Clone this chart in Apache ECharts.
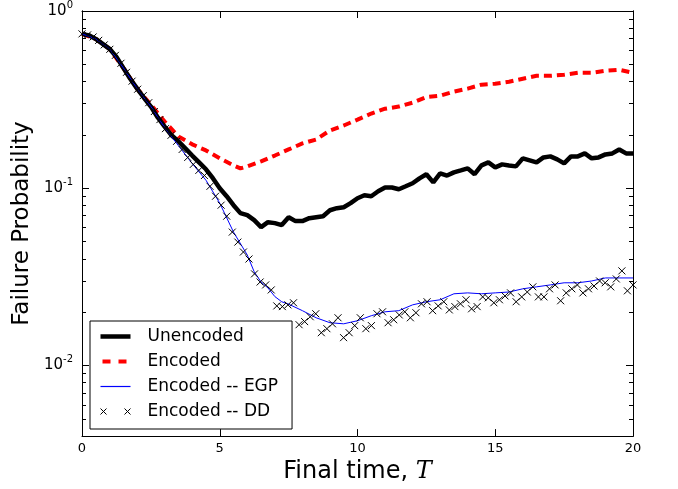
<!DOCTYPE html>
<html>
<head>
<meta charset="utf-8">
<script src="https://cdn.jsdelivr.net/npm/echarts@6/dist/echarts.min.js"></script>
<style>html,body{margin:0;padding:0;background:#fff;}#c{width:678px;height:489px;}</style>
</head>
<body>
<div id="c"></div>
<script>
// ---------- data ----------
const tUnenc = [0,0.25,0.5,0.75,1,1.25,1.5,1.75,2,2.25,2.5,2.75,3,3.25,3.5,3.75,4,4.25,4.5,4.75,5,5.25,5.5,5.75,6,6.25,6.5,6.75,7,7.25,7.5,7.75,8,8.25,8.5,8.75,9,9.25,9.5,9.75,10,10.25,10.5,10.75,11,11.25,11.5,11.75,12,12.25,12.5,12.75,13,13.25,13.5,13.75,14,14.25,14.5,14.75,15,15.25,15.5,15.75,16,16.25,16.5,16.75,17,17.25,17.5,17.75,18,18.25,18.5,18.75,19,19.25,19.5,19.75,20];
const pUnenc = [0.743,0.729,0.696,0.653,0.612,0.551,0.478,0.415,0.365,0.324,0.289,0.251,0.223,0.199,0.184,0.168,0.153,0.140,0.128,0.114,0.100,0.0902,0.0803,0.0724,0.0705,0.0661,0.0604,0.0644,0.0636,0.0620,0.0687,0.0653,0.0653,0.0678,0.0687,0.0696,0.0752,0.0772,0.0782,0.0824,0.0879,0.0913,0.0902,0.0962,0.101,0.101,0.0987,0.1026,0.1067,0.1138,0.120,0.108,0.1214,0.118,0.123,0.1262,0.1295,0.120,0.1346,0.140,0.1312,0.1364,0.1346,0.1329,0.1475,0.1437,0.140,0.1493,0.1513,0.1455,0.1381,0.1513,0.1513,0.1573,0.1475,0.1493,0.1552,0.1573,0.1656,0.1573,0.1573];

const tEnc = [0,0.5,1,1.5,2,2.5,3,3.5,4,4.5,5,5.5,5.75,6,6.5,7,7.5,8,8.5,9,9.5,10,10.5,11,11.5,12,12.5,13,13.5,14,14.5,15,15.5,16,16.5,17,17.5,18,18.5,19,19.5,20];
const pEnc = [0.743,0.696,0.612,0.478,0.365,0.296,0.238,0.196,0.177,0.1635,0.1475,0.1346,0.1295,0.1329,0.1418,0.153,0.1656,0.179,0.1885,0.2118,0.226,0.244,0.264,0.281,0.289,0.304,0.327,0.333,0.351,0.365,0.384,0.389,0.399,0.415,0.431,0.431,0.437,0.448,0.448,0.460,0.466,0.448];

const tEGP = [0,0.5,1,1.5,2,2.5,3,3.5,4,4.5,5,5.5,6,6.25,6.5,6.75,7,7.25,7.5,8,8.5,9,9.5,10,10.5,11,11.5,12,12.5,13,13.5,14,14.5,15,15.5,16,16.5,17,17.5,18,18.5,19,19.5,20];
const pEGP = [0.743,0.696,0.612,0.478,0.365,0.289,0.220,0.174,0.138,0.111,0.0824,0.0566,0.0420,0.0338,0.0296,0.0274,0.0245,0.0229,0.0222,0.0204,0.0186,0.01744,0.0172,0.0179,0.0191,0.0201,0.0204,0.0220,0.0229,0.0235,0.0254,0.0257,0.0254,0.0257,0.0260,0.0271,0.0278,0.0285,0.0293,0.0293,0.0300,0.0312,0.0312,0.0312];

const tDD = [0,0.202,0.404,0.606,0.808,1.010,1.212,1.414,1.616,1.818,2.020,2.222,2.424,2.626,2.828,3.030,3.232,3.434,3.636,3.838,4.040,4.242,4.444,4.646,4.848,5.051,5.253,5.455,5.657,5.859,6.061,6.263,6.465,6.667,6.869,7.071,7.273,7.475,7.677,7.879,8.081,8.283,8.485,8.687,8.889,9.091,9.293,9.495,9.697,9.899,10.101,10.303,10.505,10.707,10.909,11.111,11.313,11.515,11.717,11.919,12.121,12.323,12.525,12.727,12.929,13.131,13.333,13.535,13.737,13.939,14.141,14.343,14.545,14.747,14.949,15.152,15.354,15.556,15.758,15.960,16.162,16.364,16.566,16.768,16.970,17.172,17.374,17.576,17.778,17.980,18.182,18.384,18.586,18.788,18.990,19.192,19.394,19.596,19.798,20.0];
const pDD = [0.743,0.733,0.714,0.683,0.644,0.608,0.562,0.507,0.451,0.402,
0.362,0.333,0.304,0.271,0.244,0.217,0.199,0.184,0.1656,0.1493,
0.1364,0.1262,0.118,0.1026,0.0902,0.0803,0.0696,0.0566,0.0497,0.0437,
0.0399,0.0329,0.0296,0.0285,0.0267,0.0217,0.0215,0.0220,0.0226,0.0170,
0.0177,0.01885,0.0196,0.01532,0.01614,0.0172,0.0186,0.01437,0.01532,0.0168,
0.0186,0.01614,0.0168,0.0196,0.0201,0.01744,0.01813,0.0193,0.0201,0.0186,
0.01986,0.0223,0.0229,0.0204,0.0217,0.0229,0.0206,0.0215,0.0223,0.0235,
0.0209,0.0215,0.0244,0.0241,0.0226,0.0235,0.0247,0.0257,0.0229,0.0244,
0.0260,0.0278,0.0244,0.0244,0.0271,0.0285,0.0232,0.0257,0.0271,0.0285,
0.0257,0.0271,0.0281,0.0300,0.0293,0.0278,0.0308,0.0342,0.0264,0.0285];

const xTicks = [0,5,10,15,20];
const yMajor = [0.01,0.1,1];
const yMinor = [0.004,0.005,0.006,0.007,0.008,0.009,0.02,0.03,0.04,0.05,0.06,0.07,0.08,0.09,0.2,0.3,0.4,0.5,0.6,0.7,0.8,0.9];
const names = ['Unencoded','Encoded','Encoded -- EGP','Encoded -- DD'];

// ---------- chart ----------
const pair = (xs, ys) => xs.map((x, i) => [x, ys[i]]);
const chart = echarts.init(document.getElementById('c'), null, {renderer: 'canvas'});
const FONT = 'DejaVu Sans';
const cross = 'path://M0,0L10,10M10,0L0,10';

function yAx(pos, ticks, len, labels) {
  return {
    type: 'log', logBase: 10, min: 0.004, max: 1, position: pos,
    axisLine: {show: true, lineStyle: {color: '#000', width: 1}},
    axisTick: {show: true, inside: true, length: len, customValues: ticks, lineStyle: {color: '#000', width: 1}},
    axisLabel: labels ? {
      show: true, customValues: ticks, margin: 9,
      formatter: v => '{b|10}{s|' + Math.round(Math.log10(v)) + '}',
      rich: {
        b: {fontFamily: FONT, fontSize: 15, color: '#000'},
        s: {fontFamily: FONT, fontSize: 10, color: '#000', padding: [0, 0, 12, 0]}
      }
    } : {show: false},
    splitLine: {show: false},
    name: labels && pos === 'left' ? 'Failure Probability' : '',
    nameLocation: 'middle', nameGap: 36,
    nameTextStyle: {fontFamily: FONT, fontSize: 23, color: '#000'}
  };
}

function xAx(pos, labels) {
  return {
    type: 'value', min: 0, max: 20, interval: 5, position: pos,
    axisLine: {show: true, lineStyle: {color: '#000', width: 1}},
    axisTick: {show: true, inside: true, length: 7, customValues: xTicks, lineStyle: {color: '#000'}},
    axisLabel: labels ? {show: true, fontFamily: FONT, fontSize: 13, color: '#000', margin: 6} : {show: false},
    splitLine: {show: false},
    name: labels ? '{a|Final time, }{t|T}' : '',
    nameLocation: 'middle', nameGap: 22,
    nameTextStyle: {
      rich: {
        a: {fontFamily: FONT, fontSize: 24, color: '#000'},
        t: {fontFamily: 'DejaVu Serif', fontStyle: 'italic', fontSize: 24, color: '#000'}
      }
    }
  };
}

const option = {
  backgroundColor: '#fff',
  animation: false,
  grid: {left: 82, right: 45, top: 10, bottom: 51, containLabel: false},
  xAxis: [xAx('bottom', true), xAx('top', false)],
  yAxis: [yAx('left', yMajor, 7, true), yAx('left', yMinor, 4, false), yAx('right', yMajor, 7, false), yAx('right', yMinor, 4, false)],
  legend: {
    orient: 'vertical', left: 90, top: 321,
    backgroundColor: '#fff', borderColor: '#000', borderWidth: 1, borderRadius: 0,
    padding: [7, 14, 9, 10], itemGap: 8, itemWidth: 30, itemHeight: 14,
    textStyle: {fontFamily: FONT, fontSize: 17, color: '#000', padding: [0, 0, 0, 12]},
    data: [
      {name: names[0], icon: 'path://M0,0H30V4.5H0Z', itemStyle: {color: '#000'}},
      {name: names[1], icon: 'path://M0,2H0.05V2.05H0Z M29.95,2H30V2.05H29.95Z M2,0H10V4H2Z M18,0H26V4H18Z', itemStyle: {color: '#ff0000'}},
      {name: names[2], icon: 'path://M0,0H30V1.2H0Z', itemStyle: {color: '#0000ff'}},
      {name: names[3], icon: 'path://M0,0L6,6M6,0L0,6M24,0L30,6M30,0L24,6',
       itemStyle: {color: 'rgba(0,0,0,0)', borderColor: '#000', borderWidth: 1, opacity: 1}}
    ]
  },
  series: [
    {name: names[1], type: 'line', data: pair(tEnc, pEnc), showSymbol: false, symbol: 'none',
     lineStyle: {color: '#ff0000', width: 4, type: [8, 5]}, itemStyle: {color: '#ff0000'}, z: 2},
    {name: names[0], type: 'line', data: pair(tUnenc, pUnenc), showSymbol: false, symbol: 'none',
     lineStyle: {color: '#000', width: 4.5}, itemStyle: {color: '#000'}, z: 3},
    {name: names[2], type: 'line', data: pair(tEGP, pEGP), showSymbol: false, symbol: 'none',
     lineStyle: {color: '#0000ff', width: 1}, itemStyle: {color: '#0000ff'}, z: 4},
    {name: names[3], type: 'scatter', data: pair(tDD, pDD), symbol: cross, symbolSize: 7,
     itemStyle: {color: 'rgba(0,0,0,0)', borderColor: '#000', borderWidth: 1, opacity: 1}, z: 5}
  ]
};
chart.setOption(option);
</script>
</body>
</html>
